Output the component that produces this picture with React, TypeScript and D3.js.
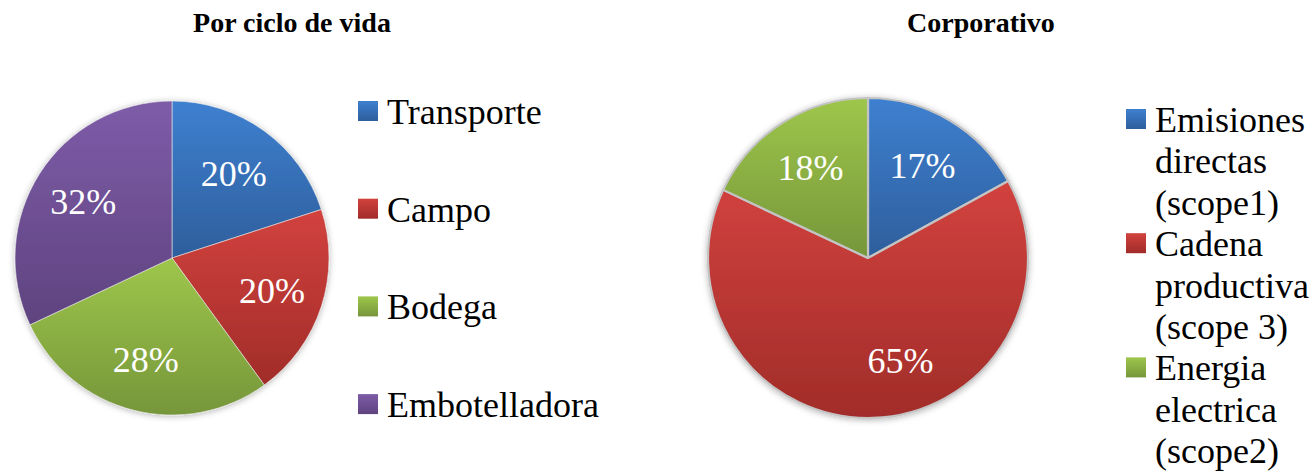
import React from 'react';
import * as d3 from 'd3';

// Por ciclo de vida
const cicloLabels = ['Transporte', 'Campo', 'Bodega', 'Embotelladora'];
const cicloValues = [20, 20, 28, 32];

// Corporativo
const corpLabels = ['Emisiones directas (scope1)', 'Cadena productiva (scope 3)', 'Energia electrica (scope2)'];
const corpValues = [17, 65, 18];

const cicloColors = ['blue', 'red', 'green', 'purple'];
const corpColors = ['blue', 'red', 'green'];

const gradients: Record<string, [string, string]> = {
  blue: ['#3e80d0', '#2e5e9c'],
  red: ['#d2423e', '#a12c29'],
  green: ['#9ec64b', '#76963a'],
  purple: ['#7e5ca8', '#5e437f'],
};

const FONT = "'Liberation Serif', 'Times New Roman', serif";

const measure = (() => {
  const ctx = document.createElement('canvas').getContext('2d')!;
  ctx.font = `36px ${FONT}`;
  return (s: string) => ctx.measureText(s).width;
})();

function wrap(text: string, maxW: number) {
  const words = text.split(' ');
  const lines: string[] = [];
  let cur = '';
  words.forEach(w => {
    const t = cur ? cur + ' ' + w : w;
    if (cur && measure(t) > maxW) {
      lines.push(cur);
      cur = w;
    } else cur = t;
  });
  if (cur) lines.push(cur);
  return lines;
}

type PieProps = {
  cx: number;
  cy: number;
  r: number;
  values: number[];
  colors: string[];
  stroke: string;
  strokeWidth: number;
  // excel moves some labels off the centroid
  labelNudge?: Record<number, [number, number]>;
};

const Pie = ({ cx, cy, r, values, colors, stroke, strokeWidth, labelNudge = {} }: PieProps) => {
  const pie = d3.pie<number>().sort(null).value(d => d);
  const arcs = pie(values);
  const arc = d3.arc<d3.PieArcDatum<number>>().innerRadius(0).outerRadius(r);
  const labelArc = d3.arc<d3.PieArcDatum<number>>().innerRadius(r * 0.67).outerRadius(r * 0.67);
  const total = d3.sum(values);
  return (
    <g transform={`translate(${cx},${cy})`}>
      <g filter="url(#shadow)">
        {arcs.map((a, i) => (
          <path key={i} d={arc(a)!} fill={`url(#grad-${colors[i]})`} stroke={stroke} strokeWidth={strokeWidth} strokeLinejoin="round" />
        ))}
      </g>
      {arcs.map((a, i) => {
        const [x, y] = labelArc.centroid(a);
        const [nx, ny] = labelNudge[i] || [0, 0];
        return (
          <text key={i} x={x + nx} y={y + ny} dy="0.35em" textAnchor="middle" fill="#fff" fontSize={36} fontFamily={FONT}>
            {d3.format('.0%')(a.data / total)}
          </text>
        );
      })}
    </g>
  );
};

type LegendProps = {
  x: number;
  y: number;
  labels: string[];
  colors: string[];
  step?: number;
  lineH?: number;
  maxW?: number;
};

const Legend = ({ x, y, labels, colors, step, lineH = 41.4, maxW = 1000 }: LegendProps) => {
  let line = 0;
  return (
    <g transform={`translate(${x},${y})`}>
      {labels.map((lab, i) => {
        const lines = wrap(lab, maxW);
        const by = step ? i * step : line * lineH;
        line += lines.length;
        return (
          <g key={i} transform={`translate(0,${by})`}>
            <rect x={0} y={-23} width={20} height={20} fill={`url(#grad-${colors[i]})`} />
            <text x={29} y={0} fontSize={36} fontFamily={FONT} fill="#000">
              {lines.map((l, j) => (
                <tspan key={j} x={29} y={j * lineH}>{l}</tspan>
              ))}
            </text>
          </g>
        );
      })}
    </g>
  );
};

export default function App() {
  return (
    <svg width={1316} height={474} style={{ position: 'absolute', left: 0, top: 0, background: '#fff' }}>
      <defs>
        {Object.entries(gradients).map(([k, [c1, c2]]) => (
          <linearGradient key={k} id={`grad-${k}`} x1="0" y1="0" x2="0" y2="1">
            <stop offset="0%" stopColor={c1} />
            <stop offset="100%" stopColor={c2} />
          </linearGradient>
        ))}
        <filter id="shadow" x="-10%" y="-10%" width="120%" height="120%">
          <feDropShadow dx="0" dy="1" stdDeviation="3" floodColor="#000" floodOpacity="0.3" />
        </filter>
      </defs>
      <text x={292} y={32} textAnchor="middle" fontSize={28} fontWeight="bold" fontFamily={FONT}>Por ciclo de vida</text>
      <text x={981} y={32} textAnchor="middle" fontSize={28} fontWeight="bold" fontFamily={FONT}>Corporativo</text>

      <Pie cx={172} cy={258} r={157} values={cicloValues} colors={cicloColors} stroke="#e8e8e8" strokeWidth={0.6} />
      <Legend x={358} y={124} labels={cicloLabels} colors={cicloColors} step={97.7} />

      <Pie cx={868} cy={258} r={160} values={corpValues} colors={corpColors} stroke="#c4c4c4" strokeWidth={2.2} labelNudge={{ 1: [29, -5] }} />
      <Legend x={1126} y={132} labels={corpLabels} colors={corpColors} lineH={41.4} maxW={165} />
    </svg>
  );
}
